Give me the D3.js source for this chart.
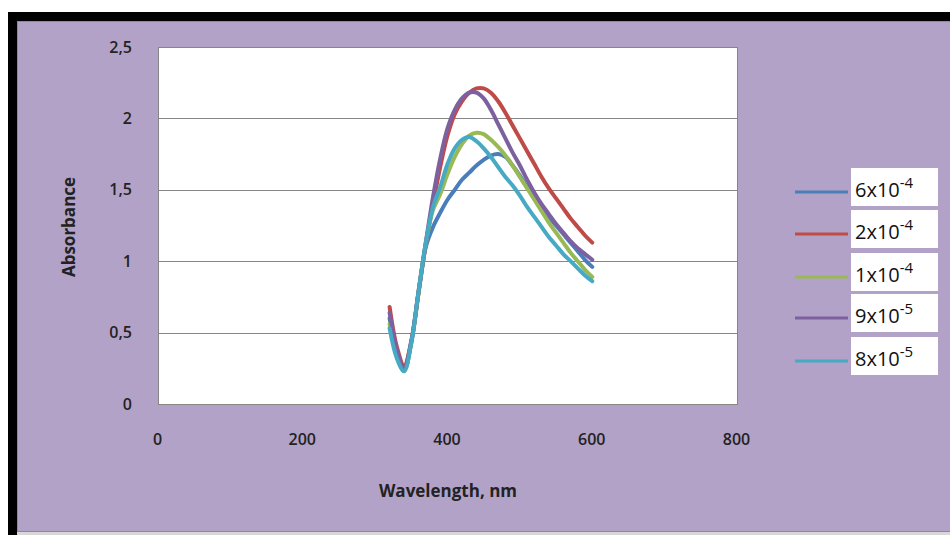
<!DOCTYPE html>
<html>
<head>
<meta charset="utf-8">
<script src="https://cdn.jsdelivr.net/npm/d3@7"></script>
<style>
  body { margin: 0; background: #fff; }
  svg text { font-family: "Open Sans", "Liberation Sans", sans-serif; }
</style>
</head>
<body>
<svg id="chart"></svg>
<script>
// Absorbance spectra, 5 concentrations
const wavelengths = [320,330,340,350,360,370,380,390,400,410,420,430,440,450,460,470,480,490,500,510,520,530,540,550,560,570,580,590,600];

const absBlue   = [0.60,0.36,0.24,0.43,0.78,1.10,1.24,1.34,1.43,1.50,1.57,1.62,1.67,1.71,1.74,1.75,1.73,1.67,1.60,1.52,1.45,1.38,1.31,1.25,1.19,1.13,1.07,1.01,0.96];
const absRed    = [0.68,0.40,0.27,0.44,0.78,1.12,1.40,1.66,1.88,2.03,2.12,2.18,2.21,2.21,2.18,2.12,2.04,1.95,1.86,1.77,1.68,1.59,1.51,1.44,1.37,1.30,1.24,1.18,1.13];
const absGreen  = [0.56,0.34,0.23,0.43,0.78,1.12,1.36,1.47,1.61,1.73,1.82,1.88,1.90,1.89,1.85,1.80,1.74,1.67,1.59,1.51,1.43,1.35,1.27,1.20,1.13,1.06,1.00,0.94,0.89];
const absPurple = [0.64,0.38,0.25,0.44,0.79,1.13,1.45,1.72,1.93,2.06,2.14,2.18,2.18,2.14,2.06,1.96,1.86,1.76,1.67,1.57,1.48,1.40,1.33,1.26,1.20,1.14,1.09,1.05,1.01];
const absCyan   = [0.53,0.32,0.23,0.43,0.79,1.13,1.38,1.52,1.68,1.79,1.85,1.87,1.84,1.79,1.73,1.66,1.59,1.53,1.46,1.38,1.31,1.24,1.17,1.11,1.05,1.00,0.95,0.90,0.86];

const seriesNames = ["6x10", "2x10", "1x10", "9x10", "8x10"];
const seriesExp   = ["-4", "-4", "-4", "-5", "-5"];
const seriesColors = ["#4A7EBB", "#BE4B48", "#98B954", "#7D60A0", "#46AAC5"];

const xTicks = [0, 200, 400, 600, 800];
const yTicks = [0, 0.5, 1, 1.5, 2, 2.5];

const allSeries = [absBlue, absRed, absGreen, absPurple, absCyan];

const W = 950, H = 535;
const svg = d3.select("#chart").attr("width", W).attr("height", H);

// outer frame (black border + lavender background)
svg.append("rect").attr("x", 8).attr("y", 12).attr("width", W).attr("height", H)
  .attr("fill", "#000");
svg.append("rect").attr("x", 17).attr("y", 532).attr("width", W).attr("height", 3)
  .attr("fill", "#d8d8d8");
svg.append("rect").attr("x", 17.5).attr("y", 21.5).attr("width", W).attr("height", 510)
  .attr("fill", "#B3A2C7").attr("stroke", "#8c8c8c");

const plot = {left: 158, right: 737, top: 47, bottom: 404};

const x = d3.scaleLinear().domain([0, 800]).range([plot.left, plot.right]);
const y = d3.scaleLinear().domain([0, 2.5]).range([plot.bottom, plot.top]);

const comma = v => String(v).replace(".", ",");

// plot area
svg.append("rect")
  .attr("x", plot.left + 0.5).attr("y", plot.top + 0.5)
  .attr("width", plot.right - plot.left).attr("height", plot.bottom - plot.top)
  .attr("fill", "#fff").attr("stroke", "#868686");

// gridlines
svg.append("g").selectAll("line")
  .data(yTicks.filter(d => d > 0 && d < 2.5))
  .join("line")
  .attr("x1", plot.left).attr("x2", plot.right)
  .attr("y1", d => Math.round(y(d)) + 0.5).attr("y2", d => Math.round(y(d)) + 0.5)
  .attr("stroke", "#868686").attr("stroke-width", 1);

// y axis labels
const yAxis = d3.axisLeft(y).tickValues(yTicks).tickFormat(comma).tickSize(0).tickPadding(0);
const gy = svg.append("g").attr("transform", `translate(${plot.left - 26},0)`).call(yAxis);
gy.select(".domain").remove();
gy.selectAll("text").attr("font-size", 16).attr("font-weight", 600).attr("fill", "#222");

// x axis labels
const xAxis = d3.axisBottom(x).tickValues(xTicks).tickSize(0).tickPadding(0);
const gx = svg.append("g").attr("transform", `translate(-1,${plot.bottom + 30})`).call(xAxis);
gx.select(".domain").remove();
gx.selectAll("text").attr("font-size", 16).attr("font-weight", 600).attr("fill", "#222");

// axis titles
svg.append("text").attr("x", 448).attr("y", 497).attr("text-anchor", "middle")
  .attr("font-size", 17).attr("font-weight", 700).attr("fill", "#222")
  .text("Wavelength, nm");
svg.append("text").attr("transform", "translate(75,227) rotate(-90)")
  .attr("text-anchor", "middle")
  .attr("font-size", 17).attr("font-weight", 700).attr("fill", "#222")
  .text("Absorbance");

// lines
const line = d3.line()
  .x((d, i) => x(wavelengths[i]))
  .y(d => y(d))
  .curve(d3.curveCatmullRom.alpha(0.5));

svg.append("g").selectAll("path")
  .data(allSeries)
  .join("path")
  .attr("d", d => line(d))
  .attr("fill", "none")
  .attr("stroke", (d, i) => seriesColors[i])
  .attr("stroke-width", 4)
  .attr("stroke-linecap", "round")
  .attr("stroke-linejoin", "round");

// legend
const legY = [192, 234, 277, 318, 361];
const leg = svg.append("g").selectAll("g")
  .data(seriesNames)
  .join("g")
  .attr("transform", (d, i) => `translate(0,${legY[i]})`);

leg.append("line").attr("x1", 795).attr("x2", 848).attr("y1", 0).attr("y2", 0)
  .attr("stroke", (d, i) => seriesColors[i]).attr("stroke-width", 3);
leg.append("rect").attr("x", 851).attr("y", -24).attr("width", 87).attr("height", 38)
  .attr("fill", "#fff");
const lt = leg.append("text").attr("x", 855).attr("y", 5)
  .attr("font-size", 20).attr("fill", "#111");
lt.append("tspan").text(d => d);
lt.append("tspan").attr("dy", -9).attr("font-size", 15).text((d, i) => seriesExp[i]);
</script>
</body>
</html>
